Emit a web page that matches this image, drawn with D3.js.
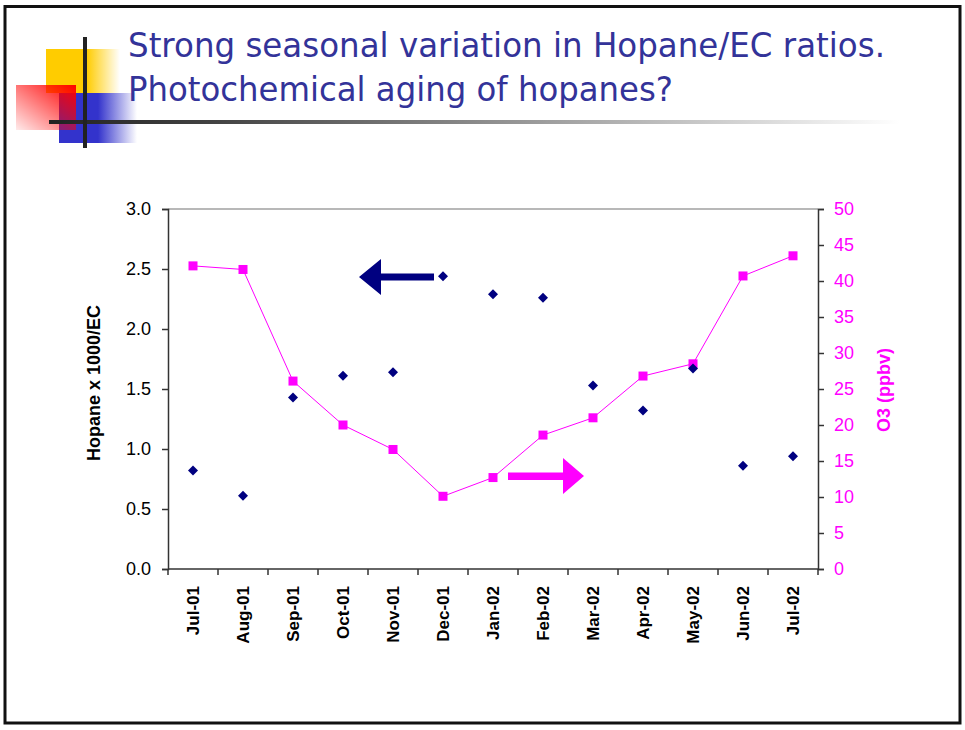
<!DOCTYPE html>
<html>
<head>
<meta charset="utf-8">
<script src="https://cdn.jsdelivr.net/npm/d3@7"></script>
<style>
  html, body { margin: 0; padding: 0; background: #fff; }
  svg { display: block; }
</style>
</head>
<body>
<svg id="slide" width="965" height="730"></svg>
<script>
// Monthly samples
const months = ["Jul-01","Aug-01","Sep-01","Oct-01","Nov-01","Dec-01","Jan-02","Feb-02","Mar-02","Apr-02","May-02","Jun-02","Jul-02"];
// Hopane x 1000 / EC (left axis)
const hopaneEC = [0.82, 0.61, 1.43, 1.61, 1.64, 2.44, 2.29, 2.26, 1.53, 1.32, 1.67, 0.86, 0.94];
// O3 in ppbv (right axis)
const ozone = [42.1, 41.6, 26.1, 20.0, 16.6, 10.1, 12.7, 18.6, 21.0, 26.8, 28.5, 40.7, 43.5];
const leftTicks = [0, 0.5, 1.0, 1.5, 2.0, 2.5, 3.0];
const rightTicks = [0, 5, 10, 15, 20, 25, 30, 35, 40, 45, 50];

const svg = d3.select("#slide");
const defs = svg.append("defs");

// Slide frame
svg.append("rect").attr("x", 5).attr("y", 6.5).attr("width", 955).attr("height", 716.5)
  .attr("fill", "#fff").attr("stroke", "#111").attr("stroke-width", 3);

// Title ornament gradients
function linGrad(id, x1, y1, x2, y2, stops) {
  const g = defs.append("linearGradient").attr("id", id)
    .attr("x1", x1).attr("y1", y1).attr("x2", x2).attr("y2", y2);
  stops.forEach(s => g.append("stop").attr("offset", s[0]).attr("stop-color", s[1]).attr("stop-opacity", s[2]));
}
linGrad("gYellow", 0, 0, 1, 0, [[0, "#FFCC00", 1], [0.55, "#FFCC00", 1], [1, "#FFCC00", 0]]);
linGrad("gBlue", 0, 0, 1, 0, [[0, "#3333CC", 1], [0.5, "#3333CC", 1], [1, "#3333CC", 0]]);
linGrad("gRed", 1, 0, 0, 1, [[0, "#FF0000", 1], [1, "#FF0000", 0.08]]);
linGrad("gRule", 0, 0, 1, 0, [[0, "#222", 1], [0.2, "#444", 1], [1, "#fff", 1]]);

const orn = svg.append("g");
orn.append("rect").attr("x", 46).attr("y", 49).attr("width", 74).attr("height", 44).attr("fill", "url(#gYellow)");
orn.append("rect").attr("x", 59).attr("y", 93).attr("width", 78).attr("height", 50).attr("fill", "url(#gBlue)");
orn.append("rect").attr("x", 16).attr("y", 85).attr("width", 60).attr("height", 45).attr("fill", "url(#gRed)");
orn.append("rect").attr("x", 49).attr("y", 120).attr("width", 851).attr("height", 4).attr("fill", "url(#gRule)");
orn.append("rect").attr("x", 83).attr("y", 37).attr("width", 4).attr("height", 111).attr("fill", "#222");

// Title
const title = svg.append("g").attr("fill", "#333399")
  .style("font-family", "'DejaVu Sans', Verdana, sans-serif").style("font-size", "33px");
title.append("text").attr("x", 128).attr("y", 57)
  .attr("textLength", 757).attr("lengthAdjust", "spacingAndGlyphs")
  .text("Strong seasonal variation in Hopane/EC ratios.");
title.append("text").attr("x", 128).attr("y", 101)
  .attr("textLength", 545).attr("lengthAdjust", "spacingAndGlyphs")
  .text("Photochemical aging of hopanes?");

// Chart
const plot = { left: 168, right: 818, top: 209, bottom: 569 };
const x = d3.scaleBand().domain(months).range([plot.left, plot.right]);
const yL = d3.scaleLinear().domain([0, 3]).range([plot.bottom, plot.top]);
const yR = d3.scaleLinear().domain([0, 50]).range([plot.bottom, plot.top]);
const cx = m => x(m) + x.bandwidth() / 2;

const chart = svg.append("g");
chart.append("line").attr("x1", plot.left).attr("x2", plot.right)
  .attr("y1", plot.top).attr("y2", plot.top).attr("stroke", "#a0a0a0").attr("stroke-width", 1.5);

const font = "'Liberation Sans', Arial, sans-serif";

// Left axis
const axL = chart.append("g").attr("transform", `translate(${plot.left},0)`)
  .call(d3.axisLeft(yL).tickValues(leftTicks).tickFormat(d3.format(".1f")).tickSize(6).tickPadding(11));
axL.select(".domain").attr("stroke", "#333").attr("stroke-width", 1.5);
axL.selectAll(".tick line").attr("stroke", "#333").attr("stroke-width", 1.5);
axL.selectAll("text").attr("fill", "#000").style("font-family", font).style("font-size", "18px");

// Right axis
const axR = chart.append("g").attr("transform", `translate(${plot.right},0)`)
  .call(d3.axisRight(yR).tickValues(rightTicks).tickSize(6).tickPadding(10));
axR.select(".domain").attr("stroke", "#333").attr("stroke-width", 1.5);
axR.selectAll(".tick line").attr("stroke", "#333").attr("stroke-width", 1.5);
axR.selectAll("text").attr("fill", "#FF00FF").style("font-family", font).style("font-size", "18px");

// Bottom axis: ticks sit on the band edges
const edges = months.map(m => x(m)).concat([plot.right]);
chart.append("line").attr("x1", plot.left).attr("x2", plot.right)
  .attr("y1", plot.bottom).attr("y2", plot.bottom).attr("stroke", "#333").attr("stroke-width", 1.5);
chart.selectAll("line.xt").data(edges).join("line").attr("class", "xt")
  .attr("x1", d => d).attr("x2", d => d).attr("y1", plot.bottom).attr("y2", plot.bottom + 6)
  .attr("stroke", "#333").attr("stroke-width", 1.5);
chart.selectAll("text.xl").data(months).join("text").attr("class", "xl")
  .attr("transform", d => `translate(${cx(d) + 6},${plot.bottom + 17}) rotate(-90)`)
  .attr("text-anchor", "end")
  .style("font-family", font).style("font-size", "17px").style("font-weight", "bold")
  .text(d => d);

// Axis titles
chart.append("text").attr("transform", `translate(100,383) rotate(-90)`)
  .attr("text-anchor", "middle").style("font-family", font).style("font-size", "18px")
  .style("font-weight", "bold").text("Hopane x 1000/EC");
chart.append("text").attr("transform", `translate(890,390) rotate(-90)`)
  .attr("text-anchor", "middle").attr("fill", "#FF00FF").style("font-family", font).style("font-size", "18px")
  .style("font-weight", "bold").text("O3 (ppbv)");

// O3 line with square markers
const line = d3.line().x((d, i) => cx(months[i])).y(d => yR(d));
chart.append("path").datum(ozone).attr("d", line).attr("fill", "none")
  .attr("stroke", "#FF00FF").attr("stroke-width", 1);
chart.selectAll("rect.o3").data(ozone).join("rect").attr("class", "o3")
  .attr("x", (d, i) => cx(months[i]) - 4.5).attr("y", d => yR(d) - 4.5)
  .attr("width", 9).attr("height", 9).attr("fill", "#FF00FF");

// Hopane/EC diamonds
const diamond = d3.symbol().type(d3.symbolSquare).size(50);
chart.selectAll("path.hop").data(hopaneEC).join("path").attr("class", "hop")
  .attr("d", diamond)
  .attr("transform", (d, i) => `translate(${cx(months[i])},${yL(d)}) rotate(45)`)
  .attr("fill", "#000080");

// Arrows pointing to each series' axis
chart.append("path").attr("fill", "#000080")
  .attr("d", "M359,277 L381,259 L381,273.5 L434,273.5 L434,280.5 L381,280.5 L381,295 Z");
chart.append("path").attr("fill", "#FF00FF")
  .attr("d", "M584,476 L563,458 L563,472.5 L508,472.5 L508,480 L563,480 L563,494 Z");
</script>
</body>
</html>
